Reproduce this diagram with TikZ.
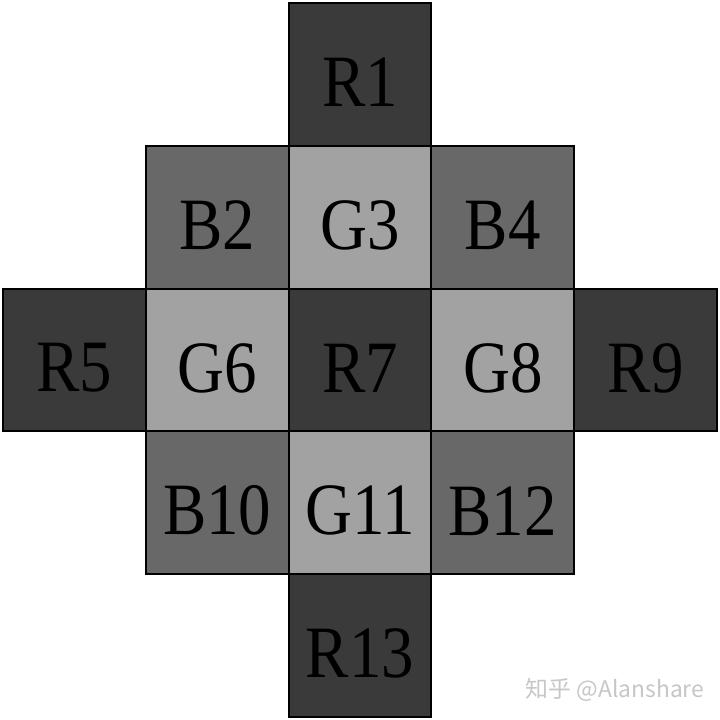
\documentclass[tikz,border=0pt]{standalone}
\usepackage{fontspec}
\setmainfont{Liberation Serif}[FakeStretch=0.88]
\newfontfamily\cjkfont{Noto Sans CJK SC}
\usepackage{xcolor}
\definecolor{redcell}{HTML}{3A3A3A}
\definecolor{bluecell}{HTML}{686868}
\definecolor{greencell}{HTML}{A2A2A2}

\begin{document}
\begin{tikzpicture}[line width=1.1pt,
  cell/.style={draw=black, minimum size=2.856cm, inner sep=0pt},
  rcell/.style={cell, fill=redcell},
  bcell/.style={cell, fill=bluecell},
  gcell/.style={cell, fill=greencell},
  lbl/.style={font=\fontsize{42}{42}\selectfont, inner sep=0pt}]
  % frame
  \useasboundingbox (0,0) rectangle (14.4,14.4);
  \fill[white] (0,0) rectangle (14.4,14.4);
  % mosaic cells: column/row/name/style
  \foreach \c/\r/\n/\s in {2/0/R1/rcell,
      1/1/B2/bcell, 2/1/G3/gcell, 3/1/B4/bcell,
      0/2/R5/rcell, 1/2/G6/gcell, 2/2/R7/rcell, 3/2/G8/gcell, 4/2/R9/rcell,
      1/3/B10/bcell, 2/3/G11/gcell, 3/3/B12/bcell,
      2/4/R13/rcell} {
    \node[\s] (\n) at ({0.06+(\c+0.5)*2.856}, {14.34-(\r+0.5)*2.856}) {};
    \node[lbl] (t\n) at ([yshift=-0.16cm]\n.center) {\n};
  }
  % watermark
  \node[text=black!22, font=\cjkfont\fontsize{13}{13}\selectfont] (mark) at (12.3,0.6) {知乎 @Alanshare};
\end{tikzpicture}
\end{document}
